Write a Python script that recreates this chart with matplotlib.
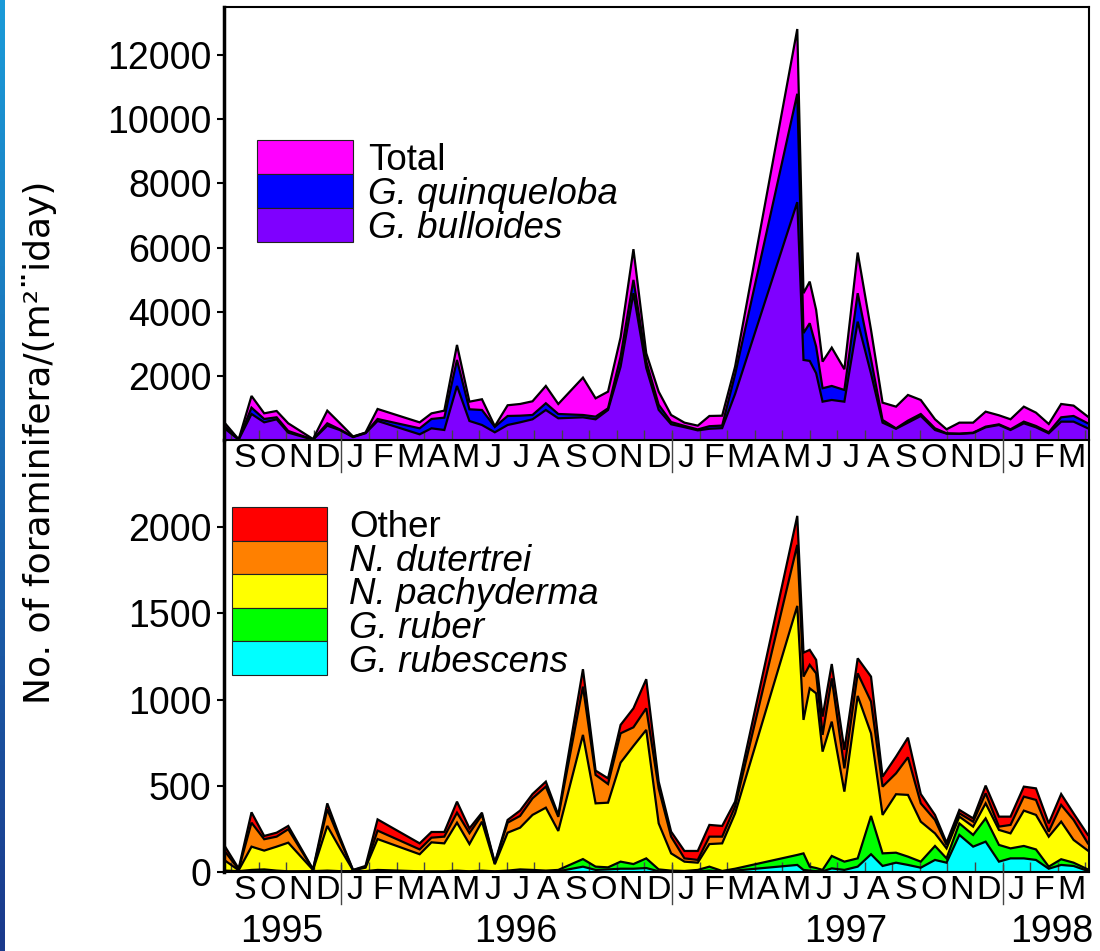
import calendar
import datetime

import matplotlib
matplotlib.use("Agg")
import matplotlib.pyplot as plt
import numpy as np
from matplotlib.colors import LinearSegmentedColormap
from matplotlib.patches import Rectangle
from matplotlib.transforms import blended_transform_factory

plt.rcParams['font.family'] = ['Liberation Sans', 'DejaVu Sans']

# sampling dates of the sediment trap
dates = [
    "1995-08-25", "1995-09-09", "1995-09-23", "1995-10-07", "1995-10-21", "1995-11-03",
    "1995-11-30", "1995-12-16", "1995-12-30", "1996-01-14", "1996-01-28", "1996-02-10",
    "1996-03-27", "1996-04-09", "1996-04-23", "1996-05-07", "1996-05-21", "1996-06-04",
    "1996-06-18", "1996-07-02", "1996-07-16", "1996-07-30", "1996-08-14", "1996-08-28",
    "1996-09-24", "1996-10-08", "1996-10-22", "1996-11-05", "1996-11-19", "1996-12-03",
    "1996-12-17", "1996-12-31", "1997-01-15", "1997-01-30", "1997-02-11", "1997-02-24",
    "1997-03-10", "1997-05-18", "1997-05-25", "1997-06-01", "1997-06-08", "1997-06-15",
    "1997-06-25", "1997-07-09", "1997-07-24", "1997-08-08", "1997-08-21", "1997-09-05",
    "1997-09-18", "1997-10-02", "1997-10-18", "1997-10-31", "1997-11-14", "1997-11-29",
    "1997-12-13", "1997-12-28", "1998-01-10", "1998-01-25", "1998-02-07", "1998-02-20",
    "1998-03-05", "1998-03-19", "1998-04-04",
]

# upper panel, flux per (m2 day)
bulloides = [350, 10, 811, 551, 645, 229, 10, 447, 312, 90, 210, 593, 177, 364, 312, 1685,
             593, 468, 240, 468, 551, 645, 936, 677, 707, 645, 936, 2287, 4577, 2250, 940,
             490, 400, 300, 350, 370, 1435, 7415, 2496, 2465, 2081, 1195, 1248, 1195, 3691,
             2069, 541, 350, 541, 749, 312, 198, 190, 215, 395, 468, 312, 520, 395, 208,
             572, 572, 364]
quinqueloba = [70, 5, 197, 104, 63, 52, 5, 73, 21, 10, 15, 62, 187, 291, 385, 811, 364, 468,
               170, 281, 207, 135, 209, 134, 73, 83, 52, 313, 415, 200, 160, 70, 40, 30, 80,
               80, 607, 3380, 837, 1175, 830, 418, 437, 365, 886, 448, 83, 14, 62, 62, 52,
               10, 8, 14, 21, 21, 21, 52, 42, 32, 135, 177, 156]
total = [520, 20, 1373, 832, 905, 520, 30, 915, 530, 110, 230, 967, 550, 830, 915, 2964,
         1195, 1270, 430, 1083, 1123, 1207, 1685, 1123, 1945, 1300, 1508, 3200, 5950, 2705,
         1508, 780, 541, 447, 749, 758, 2287, 12813, 4577, 4939, 4056, 2443, 2880, 2206,
         5844, 3432, 1164, 1040, 1404, 1248, 646, 334, 541, 541, 884, 770, 646, 1040, 853,
         499, 1123, 1072, 728]

# lower panel
rubescens = [4, 2, 3, 4, 3, 2, 2, 2, 2, 2, 2, 3, 2, 2, 2, 3, 2, 3, 2, 3, 4, 3, 3, 4, 31, 12,
             15, 19, 19, 23, 4, 3, 3, 3, 8, 3, 8, 41, 12, 8, 5, 4, 21, 12, 31, 103, 35, 54,
             41, 25, 70, 54, 215, 147, 176, 60, 79, 79, 70, 19, 41, 35, 6]
ruber = [4, 3, 9, 11, 5, 2, 3, 6, 3, 3, 3, 9, 2, 2, 2, 5, 2, 5, 2, 5, 11, 9, 5, 8, 44, 19,
         12, 41, 27, 56, 11, 5, 3, 9, 23, 3, 11, 58, 96, 23, 18, 8, 72, 48, 48, 222, 73, 58,
         48, 35, 81, 25, 67, 68, 135, 97, 58, 72, 61, 12, 33, 19, 9]
pachyderma = [58, 5, 135, 109, 139, 166, 7, 259, 135, 5, 20, 179, 99, 168, 162, 278, 158,
              284, 41, 220, 242, 319, 365, 226, 720, 367, 375, 574, 685, 745, 267, 100, 54,
              42, 131, 160, 321, 1444, 774, 1034, 1013, 686, 779, 406, 942, 479, 223, 339,
              358, 232, 73, 58, 39, 48, 87, 87, 87, 205, 200, 174, 218, 132, 109]
dutertrei = [52, 5, 139, 66, 58, 78, 2, 96, 50, 1, 5, 49, 28, 27, 39, 58, 63, 39, 5, 58, 68,
             96, 122, 82, 280, 165, 108, 170, 108, 125, 203, 97, 19, 16, 43, 39, 39, 354,
             251, 136, 116, 97, 251, 135, 131, 184, 164, 121, 218, 106, 78, 20, 19, 29, 58,
             19, 49, 81, 87, 29, 97, 116, 42]
other = [29, 5, 60, 19, 23, 19, 2, 35, 15, 1, 5, 65, 35, 33, 27, 64, 28, 13, 4, 16, 31, 25,
         29, 11, 101, 25, 33, 49, 110, 169, 39, 29, 43, 52, 68, 62, 29, 168, 139, 87, 78,
         106, 83, 107, 87, 145, 58, 97, 114, 54, 29, 13, 20, 19, 45, 58, 48, 58, 67, 48, 63,
         38, 49]

month_labels = list("SONDJFMAMJJASONDJFMAMJJASONDJFM")
year_labels = ["1995", "1996", "1997", "1998"]
year_label_pos = [1.84, 10.31, 22.32, 29.79]   # in months since 1 Sep 1995
year_starts = [4, 16, 28]


def month_pos(s):
    d = datetime.date.fromisoformat(s)
    nd = calendar.monthrange(d.year, d.month)[1]
    return (d.year - 1995) * 12 + (d.month - 9) + (d.day - 1) / nd


x = np.array([month_pos(d) for d in dates])

W, H = 1100, 951
fig = plt.figure(figsize=(W / 100, H / 100), dpi=100)


def fx(px):
    return px / W


def fy(py):
    return 1 - py / H


ax2 = fig.add_axes([fx(224), fy(872), fx(1089) - fx(224), fy(440) - fy(872)])
ax1 = fig.add_axes([fx(224), fy(440), fx(1089) - fx(224), fy(7) - fy(440)])
ax1.set_zorder(3)

top_layers = [
    (np.array(bulloides), '#7f00ff'),
    (np.array(quinqueloba), '#0000ff'),
    (np.array(total) - np.array(bulloides) - np.array(quinqueloba), '#ff00ff'),
]
bottom_layers = [
    (np.array(rubescens), '#00ffff'),
    (np.array(ruber), '#00ff00'),
    (np.array(pachyderma), '#ffff00'),
    (np.array(dutertrei), '#ff8000'),
    (np.array(other), '#ff0000'),
]


def draw_stack(ax, layers):
    base = np.zeros(len(x))
    tops = []
    for vals, col in layers:
        top = base + vals
        ax.fill_between(x, base, top, facecolor=col, edgecolor='none', zorder=1)
        tops.append(top)
        base = top
    for top in tops:
        ax.plot(x, top, color='black', lw=1.6, zorder=2, solid_joinstyle='miter')


draw_stack(ax1, top_layers)
draw_stack(ax2, bottom_layers)

ax1.set_ylim(0, 13500)
ax2.set_ylim(0, 2505)
ax1.set_yticks([2000, 4000, 6000, 8000, 10000, 12000])
ax2.set_yticks([0, 500, 1000, 1500, 2000])

for ax in (ax1, ax2):
    ax.set_xlim(x[0] - 0.04, x[-1] + 0.04)
    ax.set_xticks(np.arange(0, 32))
    ax.set_xticklabels([])
    ax.set_xticks(np.arange(31) + 0.5, minor=True)
    ax.set_xticklabels(month_labels, minor=True)
    ax.tick_params(axis='x', which='major', direction='in', length=7, width=1, color='#444444')
    ax.tick_params(axis='x', which='minor', length=0, pad=2, labelsize=24.5)
    ax.tick_params(axis='y', direction='out', length=5, width=1.5, pad=4, labelsize=27)
    for s in ax.spines.values():
        s.set_linewidth(1.5)
    ax.spines['left'].set_linewidth(2.5)
    # long ticks at the start of each year
    tr = blended_transform_factory(ax.transData, ax.transAxes)
    for ys in year_starts:
        ax.plot([ys, ys], [0.016, -0.075], color='#444444', lw=1, transform=tr,
                clip_on=False, zorder=3)

ax2.spines['top'].set_visible(False)

for lab, pos in zip(year_labels, year_label_pos):
    ax2.text(pos, -0.14, lab, transform=blended_transform_factory(ax2.transData, ax2.transAxes),
             ha='center', va='center', fontsize=27)

fig.text(fx(40), fy(442), "No. of foraminifera/(m²¨iday)", rotation=90, ha='center',
         va='center', fontsize=26, family=['Liberation Sans Narrow', 'DejaVu Sans'])

# legends drawn as stacked colour boxes
top_legend = [("Total", '#ff00ff', 'normal'), ("G. quinqueloba", '#0000ff', 'italic'),
              ("G. bulloides", '#7f00ff', 'italic')]
bottom_legend = [("Other", '#ff0000', 'normal'), ("N. dutertrei", '#ff8000', 'italic'),
                 ("N. pachyderma", '#ffff00', 'italic'), ("G. ruber", '#00ff00', 'italic'),
                 ("G. rubescens", '#00ffff', 'italic')]


def draw_legend(entries, x0, x1, y0, rowh, tx):
    for i, (lab, col, style) in enumerate(entries):
        ytop = y0 + i * rowh
        fig.add_artist(Rectangle((fx(x0), fy(ytop + rowh)), fx(x1) - fx(x0), rowh / H,
                                 transform=fig.transFigure, facecolor=col,
                                 edgecolor='#222222', lw=0.8, zorder=5))
        fig.text(fx(tx), fy(ytop + rowh / 2), lab, ha='left', va='center_baseline',
                 fontsize=26.5, style=style, zorder=5)


draw_legend(top_legend, 257, 353, 140, 34, 368)
draw_legend(bottom_legend, 232, 327, 507, 33.6, 349)

# blue strip at the left edge
bar = fig.add_axes([0, 0, 5 / W, 1])
cmap = LinearSegmentedColormap.from_list('edge', ['#1a9ad8', '#1b3a8c'])
bar.imshow(np.linspace(0, 1, 100).reshape(-1, 1), aspect='auto', cmap=cmap)
bar.axis('off')

fig.savefig("out.png", dpi=100)
